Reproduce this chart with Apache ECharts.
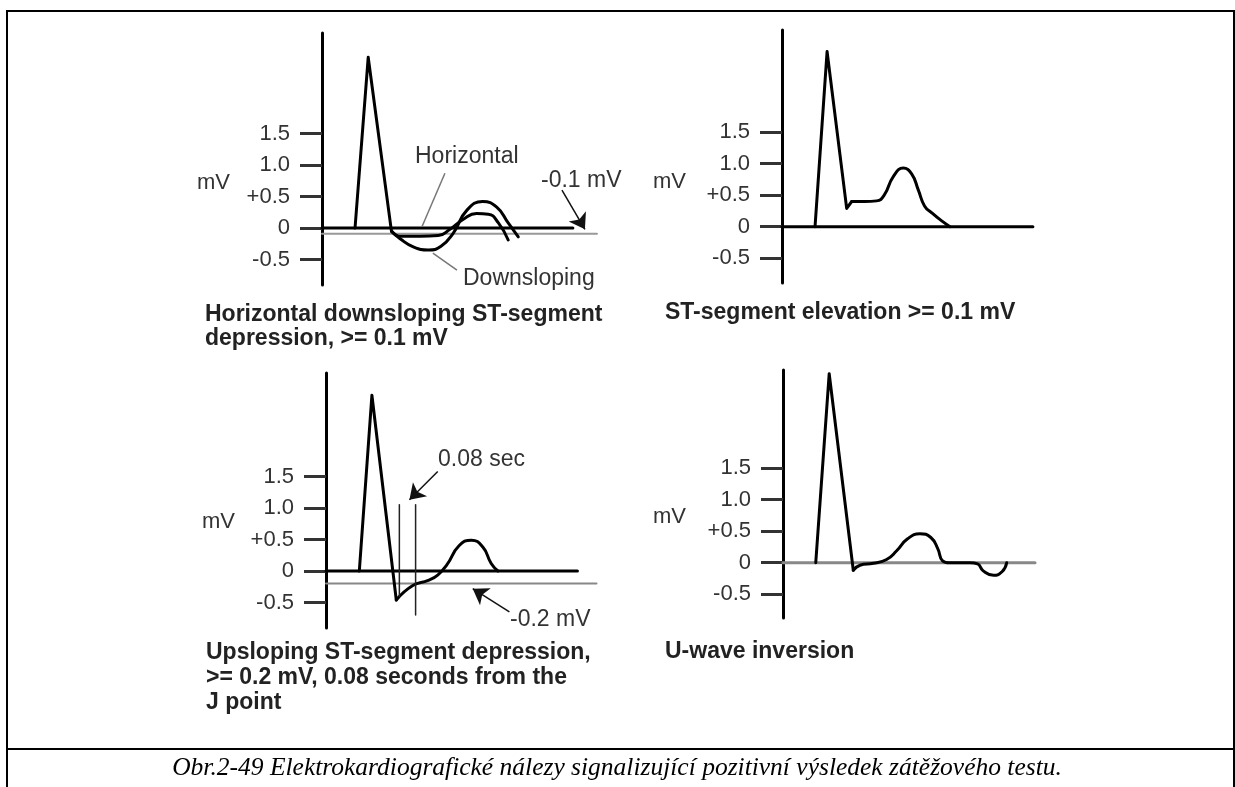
<!DOCTYPE html>
<html>
<head>
<meta charset="utf-8">
<script src="https://cdn.jsdelivr.net/npm/echarts@6/dist/echarts.min.js"></script>
<style>
  html, body { margin: 0; padding: 0; background: #fff; }
  #chart { width: 1235px; height: 787px; }
</style>
</head>
<body>
<div id="chart"></div>
<script>
// ---------- data (x: relative time units 0..100, y: mV) ----------
const yTickValues = [-0.5, 0, 0.5, 1.0, 1.5];
const yTickLabels = ['-0.5', '0', '+0.5', '1.0', '1.5'];

// Panel 1: Horizontal / downsloping ST depression
const p1Baseline = [[0, 0], [89.6, 0]];
const p1RefLine = [[0, -0.09], [98.2, -0.09]];
const p1Qrs = [[11.8, 0], [16.5, 2.71], [24.8, -0.05]];
const p1Horizontal = [[24.8, -0.05], [27.9, -0.13], [35, -0.13], [41.5, -0.12], [45.7, -0.02], [50.5, 0.14], [55.2, 0.23], [59.4, 0.22], [63.0, 0.08], [66.5, -0.19]];
const p1Downsloping = [[24.8, -0.05], [27.9, -0.17], [32.6, -0.30], [38.0, -0.35], [42.5, -0.29], [46.9, -0.08], [51.7, 0.28], [57.4, 0.42], [62.4, 0.33], [66.5, 0.08], [70.1, -0.14]];
const p1ArrowRef = [[85.7, 0.60], [93.9, -0.02]];
const p1PointerHorizontal = [[43.9, 0.87], [35.7, 0.02]];
const p1PointerDownsloping = [[48.2, -0.67], [39.6, -0.40]];

// Panel 2: ST elevation
const p2Baseline = [[0, 0], [89.6, 0]];
const p2Qrs = [[11.8, 0], [16.1, 2.78], [23.1, 0.29], [24.9, 0.40]];
const p2StT = [[24.9, 0.40], [29.5, 0.40], [33.8, 0.41], [36.5, 0.50], [39.8, 0.80], [43.3, 0.93], [46.3, 0.84], [48.7, 0.58], [50.9, 0.33], [53.5, 0.22], [56.8, 0.10], [60.0, 0]];

// Panel 3: Upsloping ST depression
const p3Baseline = [[0, 0], [89.8, 0]];
const p3RefLine = [[0, -0.2], [96.6, -0.2]];
const p3Qrs = [[11.9, 0], [16.4, 2.79], [25.1, -0.46]];
const p3StT = [[25.1, -0.46], [31.0, -0.23], [36.5, -0.15], [40.0, -0.06], [43.2, 0.10], [47.5, 0.40], [51.9, 0.49], [56.0, 0.38], [59.0, 0.12], [61.4, 0]];
const p3JPointLine = [[26.2, 1.05], [26.2, -0.40]];
const p3PlusEightyLine = [[32.0, 1.05], [32.0, -0.70]];
const p3ArrowSec = [[39.9, 1.58], [29.8, 1.13]];
const p3ArrowRef = [[65.5, -0.65], [52.4, -0.28]];

// Panel 4: U-wave inversion
const p4Baseline = [[0, 0], [90.0, 0]];
const p4Qrs = [[11.7, 0], [16.5, 3.0], [25.1, -0.12]];
const p4StTU = [[25.1, -0.12], [27.5, -0.04], [32.3, -0.01], [37.0, 0.05], [40.6, 0.19], [44.5, 0.38], [48.9, 0.46], [52.8, 0.40], [55.3, 0.22], [57.0, 0.03], [59.5, 0], [66.8, 0], [69.5, -0.02], [71.5, -0.13], [75.2, -0.20], [78.3, -0.14], [79.9, 0]];

const panelTitles = [
  ['Horizontal downsloping ST-segment', 'depression, >= 0.1 mV'],
  ['ST-segment elevation >= 0.1 mV'],
  ['Upsloping ST-segment depression,', '>= 0.2 mV, 0.08 seconds from the', 'J point'],
  ['U-wave inversion']
];
const captionText = 'Obr.2-49 Elektrokardiografické nálezy signalizující pozitivní výsledek zátěžového testu.';

// ---------- layout ----------
const PX_PER_MV = 63;
const layouts = [
  { left: 322, top: 33, bottom: 285, zero: 228 },
  { left: 782, top: 30, bottom: 283, zero: 226.7 },
  { left: 326, top: 373, bottom: 628, zero: 571 },
  { left: 783, top: 370, bottom: 618, zero: 562.7 }
];
const PANEL_W = 280;
const SANS = "'Liberation Sans', Arial, sans-serif";

const grids = [], xAxes = [], yAxes = [];
layouts.forEach((L, i) => {
  grids.push({ left: L.left, top: L.top, width: PANEL_W, height: L.bottom - L.top, containLabel: false });
  xAxes.push({ gridIndex: i, type: 'value', min: 0, max: 100, show: false });
  yAxes.push({
    gridIndex: i, type: 'value',
    min: -(L.bottom - L.zero) / PX_PER_MV,
    max: (L.zero - L.top) / PX_PER_MV,
    axisLine: { show: true, onZero: false, lineStyle: { color: '#000', width: 3 } },
    axisTick: { show: true, customValues: yTickValues, length: 22, lineStyle: { color: '#333', width: 3 } },
    axisLabel: {
      show: true, customValues: yTickValues, margin: 32,
      fontSize: 22, color: '#333', fontFamily: SANS,
      formatter: v => {
        for (let k = 0; k < yTickValues.length; k++) if (Math.abs(yTickValues[k] - v) < 1e-6) return yTickLabels[k];
        return '';
      }
    },
    splitLine: { show: false }
  });
});

function line(idx, data, opts = {}) {
  return Object.assign({
    type: 'line', xAxisIndex: idx, yAxisIndex: idx, data: data,
    showSymbol: false, symbol: 'none', silent: true, clip: false,
    smooth: opts.smooth || false,
    lineStyle: { color: opts.color || '#000', width: opts.width || 3, join: 'round', cap: 'round' },
    z: opts.z || 3
  }, opts.extra || {});
}
function segs(pairsList) {
  return pairsList.map(p => [{ coord: p[0] }, { coord: p[1] }]);
}
function arrowMark(pairsList) {
  return {
    silent: true, symbol: ['none', 'arrow'], symbolSize: 15, animation: false,
    label: { show: false },
    lineStyle: { color: '#111', width: 1.5, type: 'solid' },
    data: segs(pairsList)
  };
}
function pointerMark(pairsList) {
  return {
    silent: true, symbol: ['none', 'none'], animation: false,
    label: { show: false },
    lineStyle: { color: '#777', width: 1.5, type: 'solid' },
    data: segs(pairsList)
  };
}

const series = [
  // panel 1
  line(0, p1RefLine, { color: '#999', width: 2, z: 2, extra: { markLine: arrowMark([p1ArrowRef]) } }),
  line(0, p1Baseline, { width: 3, extra: { markLine: pointerMark([p1PointerHorizontal, p1PointerDownsloping]) } }),
  line(0, p1Qrs),
  line(0, p1Horizontal, { smooth: 0.5 }),
  line(0, p1Downsloping, { smooth: 0.5 }),
  // panel 2
  line(1, p2Baseline),
  line(1, p2Qrs),
  line(1, p2StT, { smooth: 0.5 }),
  // panel 3
  line(2, p3RefLine, { color: '#888', width: 2, z: 2, extra: { markLine: arrowMark([p3ArrowSec, p3ArrowRef]) } }),
  line(2, p3Baseline),
  line(2, p3Qrs),
  line(2, p3StT, { smooth: 0.5 }),
  line(2, p3JPointLine, { width: 1.5, color: '#222' }),
  line(2, p3PlusEightyLine, { width: 1.5, color: '#222' }),
  // panel 4
  line(3, p4Baseline, { color: '#888', width: 3, z: 2 }),
  line(3, p4Qrs),
  line(3, p4StTU, { smooth: 0.5 })
];

// ---------- text / frame ----------
function txt(text, x, y, font, fill, align) {
  return { type: 'text', silent: true, z: 10, style: { text, x, y, font, fill: fill || '#222', textAlign: align || 'left', textVerticalAlign: 'middle' } };
}
const regular = '23px ' + SANS;
const bold = 'bold 23px ' + SANS;
const graphics = [
  { type: 'polyline', silent: true, shape: { points: [[7, 800], [7, 11], [1234, 11], [1234, 800]] }, style: { stroke: '#000', lineWidth: 2, fill: null } },
  { type: 'line', silent: true, shape: { x1: 7, y1: 749, x2: 1234, y2: 749 }, style: { stroke: '#000', lineWidth: 2 } },
  txt(captionText, 617, 768, 'italic 25.5px "Liberation Serif", "Times New Roman", serif', '#000', 'center'),
  // mV labels
  txt('mV', 197, 183, '22px ' + SANS, '#333'),
  txt('mV', 653, 182, '22px ' + SANS, '#333'),
  txt('mV', 202, 522, '22px ' + SANS, '#333'),
  txt('mV', 653, 517, '22px ' + SANS, '#333'),
  // annotations
  txt('Horizontal', 415, 157, regular, '#333'),
  txt('-0.1 mV', 541, 181, regular, '#333'),
  txt('Downsloping', 463, 279, regular, '#333'),
  txt('0.08 sec', 438, 460, regular, '#333'),
  txt('-0.2 mV', 510, 620, regular, '#333')
];
const titlePos = [[205, 315, 23.5], [665, 313, 24], [206, 653, 25], [665, 652, 24]];
panelTitles.forEach((lines, i) => {
  lines.forEach((t, k) => {
    graphics.push(txt(t, titlePos[i][0], titlePos[i][1] + k * titlePos[i][2], bold, '#222'));
  });
});

const chart = echarts.init(document.getElementById('chart'), null, { renderer: 'canvas' });
chart.setOption({
  animation: false,
  backgroundColor: '#fff',
  grid: grids, xAxis: xAxes, yAxis: yAxes,
  series: series,
  graphic: graphics
});
</script>
</body>
</html>
